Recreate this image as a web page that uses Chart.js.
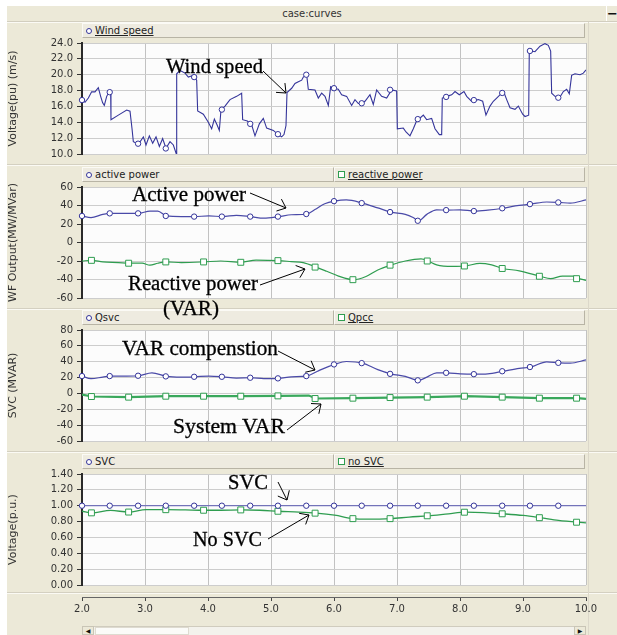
<!DOCTYPE html>
<html>
<head>
<meta charset="utf-8">
<script src="https://cdn.jsdelivr.net/npm/chart.js@4"></script>
<style>
html,body{margin:0;padding:0;background:#fff;}
#app{position:relative;width:617px;height:635px;overflow:hidden;background:#fff;font-family:"DejaVu Sans",sans-serif;}
#body{position:absolute;left:7px;top:6px;width:610px;height:629px;background:#ECE9D8;}
#titlebar{position:absolute;left:7px;top:6px;width:610px;height:15px;background:#ECE9D8;border-bottom:1px solid #d2cebf;box-shadow:0 1px 0 #fbfaf5;font-size:10px;color:#333;text-align:center;line-height:15px;}
#minus{position:absolute;left:606px;top:6px;width:11px;height:15px;border-left:1px solid #fff;font-weight:bold;font-size:13px;line-height:15px;color:#111;text-align:center;}
.sep{position:absolute;left:7px;width:610px;height:1px;background:#d4d0c1;border-bottom:1px solid #fbfaf4;}
.legbar{position:absolute;height:15px;background:#EEEBE0;border-top:1px solid #fbfaf5;border-left:1px solid #fbfaf5;border-bottom:1px solid #b8b4a5;border-right:1px solid #b8b4a5;box-sizing:border-box;}
.legtxt{position:absolute;top:0;font-size:10px;line-height:14px;color:#222;white-space:nowrap;}
.mk{position:absolute;box-sizing:border-box;background:#fff;}
canvas{position:absolute;left:0;}
#notes{position:absolute;left:0;top:0;width:617px;height:635px;pointer-events:none;}
.sb{position:absolute;box-sizing:border-box;}
</style>
</head>
<body>
<div id="app">
  <div id="body"></div>
  <div id="titlebar">case:curves</div>
  <div id="minus">&#8722;</div>
  <canvas id="p1"></canvas>
  <canvas id="p2"></canvas>
  <canvas id="p3"></canvas>
  <canvas id="p4"></canvas>
  <canvas id="xaxis"></canvas>
  <svg id="notes" xmlns="http://www.w3.org/2000/svg"></svg>
</div>
<script>
// ---------------- data ----------------
const circleX = [2.00,2.44,2.89,3.33,3.78,4.22,4.67,5.11,5.56,6.00,6.44,6.89,7.33,7.78,8.22,8.67,9.11,9.56];
const squareX = [2.15,2.74,3.33,3.93,4.52,5.11,5.70,6.30,6.89,7.48,8.07,8.67,9.26,9.85];

const windX = [2.000,2.048,2.101,2.153,2.206,2.259,2.296,2.328,2.354,2.392,
2.434,2.455,2.460,2.577,2.709,2.762,2.794,2.815,2.868,2.921,
2.974,3.016,3.069,3.122,3.175,3.228,3.280,3.333,3.397,3.450,
3.497,3.503,3.556,3.635,3.688,3.767,3.820,3.836,3.926,4.005,
4.058,4.101,4.148,4.180,4.206,4.270,4.349,4.455,4.534,4.550,
4.624,4.693,4.746,4.815,4.878,4.931,5.037,5.116,5.169,5.206,
5.238,5.254,5.328,5.381,5.434,5.487,5.513,5.566,5.592,5.698,
5.751,5.804,5.857,5.910,5.947,5.989,6.068,6.121,6.201,6.280,
6.333,6.386,6.439,6.492,6.571,6.624,6.677,6.756,6.836,6.915,
6.994,7.005,7.100,7.143,7.206,7.259,7.312,7.349,7.418,7.471,
7.550,7.603,7.672,7.709,7.719,7.788,7.868,7.921,7.989,8.063,
8.106,8.185,8.238,8.291,8.360,8.412,8.476,8.529,8.582,8.661,
8.698,8.741,8.794,8.873,8.926,8.995,9.032,9.090,9.100,9.138,
9.190,9.270,9.349,9.402,9.439,9.455,9.508,9.577,9.640,9.693,
9.735,9.772,9.825,9.905,9.958,10.000];
const windY = [16.86,16.53,17.06,17.84,17.84,18.37,17.27,16.45,16.12,17.27,
17.88,17.67,14.33,14.90,15.55,15.39,13.18,11.55,11.35,11.55,
12.16,11.14,12.29,11.35,12.16,10.94,11.96,10.73,11.55,11.14,
10.0,20.12,20.53,20.2,19.71,19.92,19.3,15.43,15.02,14.0,
13.18,14.41,13.59,12.98,15.55,16.04,16.86,17.27,17.67,14.33,
14.16,13.67,12.29,13.8,14.49,13.27,12.98,12.45,12.16,12.45,
13.59,17.76,18.29,18.9,19.1,19.31,19.71,20.0,18.16,18.08,
17.06,17.67,17.27,16.12,18.49,18.29,18.16,17.47,17.27,16.12,
16.86,16.37,16.37,16.65,17.47,16.24,18.08,17.27,17.06,18.08,
17.96,13.18,13.27,12.78,12.29,13.18,14.2,14.41,14.9,14.33,
14.49,13.18,12.45,12.45,17.06,17.27,17.47,17.88,17.47,17.88,
17.27,16.65,16.78,16.86,16.65,14.9,16.04,16.65,17.06,17.67,
17.76,16.86,15.84,15.63,16.04,15.02,14.73,14.9,23.18,22.98,
22.9,23.59,23.92,23.71,22.98,17.67,17.27,17.06,17.88,18.16,
17.59,19.92,20.12,20.0,20.2,20.6];
const windMarks = [16.8,17.8,11.3,10.7,19.7,15.6,13.8,12.5,20.0,18.3,16.4,18.1,14.4,17.2,16.8,17.7,23.0,17.1];

const activeX = [2.000,2.143,2.330,2.455,2.705,2.892,3.079,3.203,3.341,3.577,3.783,4.014,4.232,4.450,4.675,4.887,5.124,5.323,5.566,5.697,5.853,6.009,6.196,6.452,6.695,6.901,7.131,7.256,7.343,7.474,7.630,7.792,8.004,8.235,8.441,8.684,8.877,9.127,9.376,9.576,9.750,10.000];
const activeY = [28.7,27.0,30.4,31.5,31.5,31.5,34.0,34.0,28.7,28.0,28.0,28.7,28.0,29.4,28.0,26.3,28.0,30.0,30.8,35.6,41.9,44.7,46.0,42.6,37.4,32.9,30.4,27.0,23.5,30.4,35.3,35.0,35.3,34.0,35.0,37.0,39.5,41.5,43.8,43.3,42.6,46.0];
const activeMarks = [28.7,31.5,31.5,28.7,28.0,28.0,28.0,28.0,30.8,44.7,42.6,32.9,23.5,35.0,34.0,37.0,41.5,43.3];

const reactiveX = [2.000,2.156,2.330,2.580,2.742,2.954,3.079,3.203,3.341,3.577,3.927,4.201,4.525,4.762,5.124,5.323,5.510,5.716,5.884,6.071,6.308,6.508,6.695,6.901,7.131,7.381,7.493,7.630,7.880,8.085,8.316,8.503,8.684,8.940,9.276,9.438,9.626,9.800,9.868,10.000];
const reactiveY = [-20.0,-19.3,-21.0,-21.7,-22.4,-22.4,-24.5,-22.4,-21.0,-21.7,-21.0,-20.0,-21.4,-19.0,-19.6,-20.7,-21.7,-26.6,-31.1,-36.3,-40.2,-36.7,-29.7,-24.5,-20.0,-17.6,-20.0,-24.2,-25.9,-25.4,-22.6,-24.2,-28.1,-30.6,-36.5,-39.1,-36.3,-36.3,-38.5,-40.9];
const reactiveMarks = [-19.3,-22.4,-21.0,-21.0,-21.4,-19.6,-26.6,-40.2,-24.5,-20.0,-25.4,-28.1,-36.5,-39.1];

const qsvcX = [2.000,2.143,2.330,2.455,2.705,2.892,3.110,3.341,3.577,3.783,4.014,4.232,4.450,4.675,4.887,5.124,5.323,5.566,5.760,6.009,6.196,6.452,6.695,6.901,7.131,7.343,7.474,7.630,7.792,8.004,8.235,8.441,8.684,8.940,9.127,9.376,9.576,9.750,10.000];
const qsvcY = [21.9,18.6,20.6,21.9,21.9,22.3,26.0,21.5,20.6,21.0,21.9,21.0,19.4,19.8,18.6,19.0,21.0,21.9,28.8,36.6,40.3,38.2,30.0,24.7,21.5,16.5,20.6,26.0,26.0,24.7,24.3,24.7,28.0,31.7,33.3,39.9,38.6,38.2,42.3];
const qsvcMarks = [21.9,21.9,22.3,21.5,21.0,21.0,19.8,19.0,21.9,36.6,38.2,24.7,16.5,26.0,24.3,28.0,33.3,38.6];

const qpccX = [2.000,2.156,2.742,3.341,3.927,4.525,5.124,5.600,5.716,6.308,6.900,7.493,8.085,8.684,9.276,9.868,10.000];
const qpccY = [-1.5,-3.9,-4.7,-3.5,-3.5,-3.5,-3.1,-2.7,-6.4,-6.0,-5.2,-4.7,-3.5,-4.7,-6.0,-6.0,-6.8];
const qpccMarks = [-3.9,-4.7,-3.5,-3.5,-3.5,-3.1,-6.4,-6.0,-5.2,-4.7,-3.5,-4.7,-6.0,-6.0];

const svcX = [2.00,10.00];
const svcY = [1.00,1.00];
const svcMarks = [1.00,1.00,1.00,1.00,1.00,1.00,1.00,1.00,1.00,1.00,1.00,1.00,1.00,1.00,1.00,1.00,1.00,1.00];

const noSvcX = [2.000,2.156,2.455,2.742,3.016,3.341,3.640,3.927,4.201,4.525,4.824,5.124,5.447,5.716,6.009,6.308,6.508,6.900,7.194,7.493,7.817,8.085,8.378,8.684,9.002,9.276,9.563,9.868,10.000];
const noSvcY = [0.93,0.91,0.94,0.92,0.95,0.95,0.947,0.943,0.943,0.947,0.943,0.93,0.92,0.906,0.88,0.837,0.83,0.837,0.857,0.873,0.898,0.918,0.914,0.898,0.877,0.849,0.816,0.792,0.784];
const noSvcMarks = [0.91,0.92,0.95,0.943,0.947,0.93,0.906,0.837,0.837,0.873,0.918,0.898,0.849,0.792];

const xTickLabels = ['2.0','3.0','4.0','5.0','6.0','7.0','8.0','9.0','10.0'];

// ---------------- layout / style ----------------
const BLUE = '#34349a', BLUE2 = '#4a4aa8', GREEN = '#2f9d50', GREEN2 = '#3aa85c';
const PLOT_L = 82, PLOT_R = 586, PLOT_H = 115, CW = 617, PADV = 8;
const panelTops = [41, 185, 328, 472];

Chart.defaults.font.family = '"DejaVu Sans", sans-serif';
Chart.defaults.font.size = 10;
Chart.defaults.color = '#333';

const pts = (xs, ys) => xs.map((x, i) => ({x: x, y: ys[i]}));

const plotBg = {
  id: 'plotBg',
  beforeDraw(c) {
    const a = c.chartArea, ctx = c.ctx;
    ctx.save(); ctx.fillStyle = '#fcfcfc';
    ctx.fillRect(a.left, a.top, a.right - a.left, a.bottom - a.top);
    ctx.restore();
  }
};

function lineDs(xs, ys, color, width, tension) {
  return {data: pts(xs, ys), borderColor: color, borderWidth: width, pointRadius: 0,
          tension: tension, cubicInterpolationMode: tension ? 'monotone' : 'default', fill: false};
}
function markDs(xs, ys, color, style, r) {
  return {data: pts(xs, ys), showLine: false, pointStyle: style, pointRadius: r,
          pointBorderColor: color, pointBackgroundColor: '#ffffff', pointBorderWidth: 1,
          borderColor: color, clip: false};
}

function makePanel(id, top, yc, datasets) {
  const cv = document.getElementById(id);
  cv.width = CW; cv.height = PLOT_H + 2 * PADV;
  cv.style.width = CW + 'px'; cv.style.height = (PLOT_H + 2 * PADV) + 'px';
  cv.style.top = (top - PADV) + 'px';
  new Chart(cv, {
    type: 'line',
    data: {datasets: datasets},
    options: {
      responsive: false, animation: false, devicePixelRatio: 1,
      layout: {padding: {left: 0, right: CW - PLOT_R, top: PADV, bottom: PADV}},
      plugins: {legend: {display: false}, tooltip: {enabled: false}},
      scales: {
        x: {type: 'linear', min: 2, max: 10,
            ticks: {display: false, stepSize: 1},
            grid: {color: '#c2c2c2', drawTicks: false},
            border: {display: false},
            afterFit(s) { s.height = 0; }},
        y: {min: yc.min, max: yc.max,
            ticks: {stepSize: yc.step, padding: 4, color: '#333', font: {size: 10},
                    callback: v => yc.labels[Math.round((v - yc.min) / yc.step)]},
            grid: {color: '#cdcdcd', tickLength: 5, tickColor: '#333'},
            border: {color: '#2a2a2a', width: 2},
            title: {display: true, text: yc.title, color: '#333', font: {size: 11}, padding: {top: 7, bottom: 0}},
            afterFit(s) { s.width = PLOT_L; }}
      }
    },
    plugins: [plotBg]
  });
}

const windTicks = ['10.0','12.0','14.0','16.0','18.0','20.0','22.0','24.0'];
const wfTicks = ['-60','-40','-20','0','20','40','60'];
const svcTicks = ['-60','-40','-20','0','20','40','60','80'];
const voltTicks = ['0.00','0.20','0.40','0.60','0.80','1.00','1.20','1.40'];

makePanel('p1', panelTops[0], {min: 10, max: 24, step: 2, labels: windTicks, title: 'Voltage(pu) (m/s)'}, [
  markDs(circleX, windMarks, BLUE, 'circle', 2.7),
  lineDs(windX, windY, BLUE, 1.1, 0)
]);
makePanel('p2', panelTops[1], {min: -60, max: 60, step: 20, labels: wfTicks, title: 'WF Output(MW/MVar)'}, [
  markDs(circleX, activeMarks, BLUE, 'circle', 2.7),
  markDs(squareX, reactiveMarks, GREEN, 'rect', 4.2),
  lineDs(activeX, activeY, BLUE2, 1.2, 0.4),
  lineDs(reactiveX, reactiveY, GREEN, 1.2, 0.4)
]);
makePanel('p3', panelTops[2], {min: -60, max: 80, step: 20, labels: svcTicks, title: 'SVC (MVAR)'}, [
  markDs(circleX, qsvcMarks, BLUE, 'circle', 2.7),
  markDs(squareX, qpccMarks, GREEN, 'rect', 4.2),
  lineDs(qsvcX, qsvcY, BLUE2, 1.2, 0.4),
  lineDs(qpccX, qpccY, GREEN2, 2.2, 0)
]);
makePanel('p4', panelTops[3], {min: 0, max: 1.4, step: 0.2, labels: voltTicks, title: 'Voltage(p.u.)'}, [
  markDs(circleX, svcMarks, BLUE, 'circle', 2.7),
  markDs(squareX, noSvcMarks, GREEN, 'rect', 4.2),
  lineDs(svcX, svcY, '#5c5cb4', 1, 0),
  lineDs(noSvcX, noSvcY, GREEN, 1.3, 0.4)
]);

// x axis strip
(function () {
  const cv = document.getElementById('xaxis');
  cv.width = CW; cv.height = 28; cv.style.width = CW + 'px'; cv.style.height = '28px';
  cv.style.top = '589px';
  new Chart(cv, {
    type: 'line', data: {datasets: []},
    options: {
      responsive: false, animation: false, devicePixelRatio: 1,
      layout: {padding: {left: PLOT_L, right: CW - PLOT_R, top: 0, bottom: 0}},
      plugins: {legend: {display: false}, tooltip: {enabled: false}},
      scales: {
        x: {type: 'linear', position: 'bottom', min: 2, max: 10,
            ticks: {stepSize: 1, padding: 2, maxRotation: 0, autoSkip: false, color: '#333', font: {size: 10},
                    callback: v => xTickLabels[Math.round(v - 2)]},
            grid: {drawOnChartArea: false, tickLength: 4, tickColor: '#444'},
            border: {color: '#666', width: 1},
            afterFit(s) { s.height = 20; }},
        y: {display: false, min: 0, max: 1}
      }
    }
  });
})();

// ---------------- chrome: legend bars, separators, scrollbar ----------------
const app = document.getElementById('app');
function el(cls, css, html) {
  const d = document.createElement('div');
  d.className = cls; Object.assign(d.style, css);
  if (html !== undefined) d.innerHTML = html;
  app.insertBefore(d, document.getElementById('p1'));
  return d;
}
const legends = [
  [{label: 'Wind speed', mk: 'circle', color: BLUE, ul: true}],
  [{label: 'active power', mk: 'circle', color: BLUE, ul: false}, {label: 'reactive power', mk: 'square', color: GREEN, ul: true}],
  [{label: 'Qsvc', mk: 'circle', color: BLUE, ul: false}, {label: 'Qpcc', mk: 'square', color: GREEN, ul: true}],
  [{label: 'SVC', mk: 'circle', color: BLUE, ul: false}, {label: 'no SVC', mk: 'square', color: GREEN, ul: true}]
];
legends.forEach((items, p) => {
  const top = panelTops[p] - 18;
  const cells = items.length === 1 ? [[PLOT_L, PLOT_R - 1]] : [[PLOT_L, 334], [334, PLOT_R - 1]];
  items.forEach((it, i) => {
    const [l, r] = cells[i];
    const bar = el('legbar', {left: l + 'px', top: top + 'px', width: (r - l) + 'px'});
    const m = document.createElement('div');
    m.className = 'mk';
    if (it.mk === 'circle') Object.assign(m.style, {left: '3px', top: '4px', width: '6px', height: '6px', border: '1px solid ' + it.color, borderRadius: '50%'});
    else Object.assign(m.style, {left: '3px', top: '3px', width: '7px', height: '7px', border: '1px solid ' + it.color});
    bar.appendChild(m);
    const t = document.createElement('div');
    t.className = 'legtxt'; t.textContent = it.label;
    t.style.left = (it.mk === 'circle' ? 12 : 13) + 'px';
    if (it.ul) t.style.textDecoration = 'underline';
    bar.appendChild(t);
  });
});
[164, 308, 451, 592].forEach(y => el('sep', {top: y + 'px'}));
el('sep', {top: '0px', left: '588px', width: '1px', height: '635px', background: '#dcd8ca', borderBottom: 'none'}).style.top = '22px';
// scrollbar
el('sb', {left: PLOT_L + 'px', top: '626px', width: (PLOT_R - PLOT_L) + 'px', height: '9px', background: '#f3f2ec', borderTop: '1px solid #d0ccbe'});
el('sb', {left: PLOT_L + 'px', top: '626px', width: '12px', height: '9px', background: '#ECE9D8', border: '1px solid #c9c5b6', fontSize: '6px', lineHeight: '8px', textAlign: 'center', color: '#111'}, '&#9664;');
el('sb', {left: '95px', top: '627px', width: '94px', height: '8px', background: '#fbfbf8', border: '1px solid #dedbd0'});
el('sb', {left: (PLOT_R - 12) + 'px', top: '626px', width: '12px', height: '9px', background: '#ECE9D8', border: '1px solid #c9c5b6', fontSize: '6px', lineHeight: '8px', textAlign: 'center', color: '#111'}, '&#9654;');

// ---------------- annotations ----------------
const notes = [
  {text: 'Wind speed', x: 166, y: 73, w: 97, arrow: [263, 71, 286, 93]},
  {text: 'Active power', x: 132, y: 201, w: 114, arrow: [250, 193, 286, 208]},
  {text: 'Reactive power', x: 128, y: 290, w: 130, arrow: [260, 285, 305, 269]},
  {text: '(VAR)', x: 163, y: 315, w: 56, arrow: null},
  {text: 'VAR compenstion', x: 122, y: 355, w: 156, arrow: [278, 351, 315, 370]},
  {text: 'System VAR', x: 173, y: 433, w: 112, arrow: [287, 430, 321, 404]},
  {text: 'SVC', x: 228, y: 489, w: 40, arrow: [278, 482, 287, 500]},
  {text: 'No SVC', x: 193, y: 546, w: 69, arrow: [268, 539, 309, 515]}
];
const NS = 'http://www.w3.org/2000/svg';
const svg = document.getElementById('notes');
function sv(tag, attrs, txt) {
  const e = document.createElementNS(NS, tag);
  for (const k in attrs) e.setAttribute(k, attrs[k]);
  if (txt) e.textContent = txt;
  svg.appendChild(e); return e;
}
notes.forEach(n => {
  sv('text', {x: n.x, y: n.y, 'font-family': '"Liberation Serif", "DejaVu Serif", serif', 'font-size': 20.5,
              fill: '#000', stroke: '#000', 'stroke-width': 0.3, textLength: n.w, lengthAdjust: 'spacingAndGlyphs'}, n.text);
  if (n.arrow) {
    const [x1, y1, x2, y2] = n.arrow;
    sv('line', {x1: x1, y1: y1, x2: x2, y2: y2, stroke: '#000', 'stroke-width': 1});
    const ang = Math.atan2(y1 - y2, x1 - x2), L = 10, A = 0.7;
    const p1 = [x2 + L * Math.cos(ang + A), y2 + L * Math.sin(ang + A)];
    const p2 = [x2 + L * Math.cos(ang - A), y2 + L * Math.sin(ang - A)];
    sv('polyline', {points: p1.join(',') + ' ' + x2 + ',' + y2 + ' ' + p2.join(','), fill: 'none', stroke: '#000', 'stroke-width': 1});
  }
});
</script>
</body>
</html>
